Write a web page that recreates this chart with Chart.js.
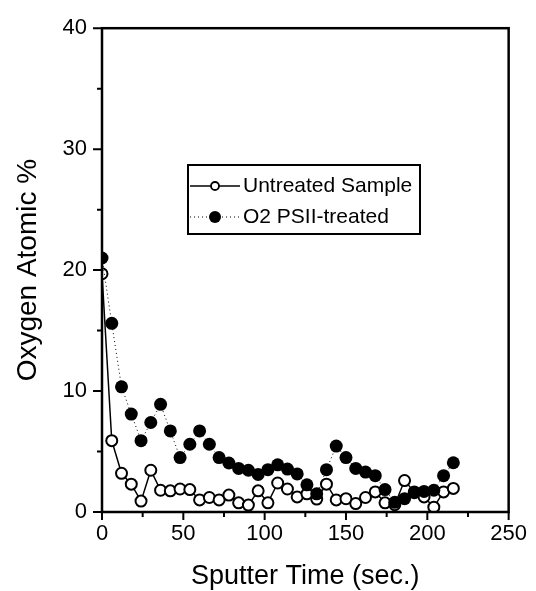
<!DOCTYPE html>
<html>
<head>
<meta charset="utf-8">
<script src="https://cdn.jsdelivr.net/npm/chart.js@4"></script>
<style>
  html, body { margin: 0; padding: 0; background: #fff; }
  #wrap { width: 536px; height: 591px; }
</style>
</head>
<body>
<div id="wrap"><canvas id="myChart"></canvas></div>
<script>
const sputterTime = [0, 6, 12, 18, 24, 30, 36, 42, 48, 54, 60, 66, 72, 78, 84, 90, 96, 102, 108, 114,
    120, 126, 132, 138, 144, 150, 156, 162, 168, 174, 180, 186, 192, 198, 204, 210, 216];

const untreated = [19.7, 5.9, 3.2, 2.3, 0.9, 3.45, 1.8, 1.75, 1.9, 1.85, 1.0, 1.2, 1.0, 1.4, 0.76, 0.57, 1.75, 0.76, 2.4, 1.9,
    1.25, 1.5, 1.07, 2.3, 1.0, 1.1, 0.7, 1.2, 1.66, 0.76, 0.6, 2.6, 1.66, 1.25, 0.4, 1.66, 1.95];

const treated = [21.0, 15.6, 10.35, 8.1, 5.9, 7.4, 8.9, 6.7, 4.5, 5.6, 6.7, 5.6, 4.5, 4.05, 3.6, 3.45, 3.1, 3.5, 3.9, 3.55,
    3.15, 2.25, 1.5, 3.5, 5.45, 4.5, 3.6, 3.3, 3.0, 1.85, 0.8, 1.1, 1.6, 1.7, 1.8, 3.0, 4.07];

const seriesNames = ['Untreated Sample', 'O2 PSII-treated'];

const xTicks = [0, 50, 100, 150, 200, 250];
const yTicks = [0, 10, 20, 30, 40];

const FONT = '"Liberation Sans", Arial, Helvetica, sans-serif';

const toPoints = (vals) => vals.map((v, i) => ({ x: sputterTime[i], y: v }));

// frame, tick marks and the boxed legend
const framePlugin = {
    id: 'frame',
    afterDraw(chart) {
        const ctx = chart.ctx;
        const a = chart.chartArea;
        const sx = chart.scales.x;
        const sy = chart.scales.y;
        ctx.save();
        ctx.strokeStyle = '#000';
        ctx.lineWidth = 2.5;
        ctx.strokeRect(a.left, a.top, a.right - a.left, a.bottom - a.top);

        ctx.lineWidth = 2;
        ctx.beginPath();
        for (let v = 0; v <= 250; v += 25) {
            const px = sx.getPixelForValue(v);
            const len = v % 50 === 0 ? 8 : 5;
            ctx.moveTo(px, a.bottom);
            ctx.lineTo(px, a.bottom + len);
        }
        for (let v = 0; v <= 40; v += 5) {
            const py = sy.getPixelForValue(v);
            const len = v % 10 === 0 ? 9 : 5;
            ctx.moveTo(a.left, py);
            ctx.lineTo(a.left - len, py);
        }
        ctx.stroke();

        // legend box
        const lx = 188, ly = 165, lw = 232, lh = 69;
        ctx.lineWidth = 2;
        ctx.strokeRect(lx, ly, lw, lh);

        const rows = [ly + 21, ly + 52];
        ctx.font = '21px ' + FONT;
        ctx.fillStyle = '#000';
        ctx.textBaseline = 'middle';

        // untreated: solid line, open circle
        ctx.lineWidth = 1.5;
        ctx.setLineDash([]);
        ctx.beginPath();
        ctx.moveTo(lx + 2, rows[0]);
        ctx.lineTo(lx + 52, rows[0]);
        ctx.stroke();
        ctx.beginPath();
        ctx.arc(lx + 27, rows[0], 4, 0, Math.PI * 2);
        ctx.fillStyle = '#fff';
        ctx.fill();
        ctx.lineWidth = 1.8;
        ctx.stroke();

        // treated: dotted line, filled circle
        ctx.lineWidth = 1;
        ctx.setLineDash([1, 3]);
        ctx.beginPath();
        ctx.moveTo(lx + 2, rows[1]);
        ctx.lineTo(lx + 52, rows[1]);
        ctx.stroke();
        ctx.setLineDash([]);
        ctx.beginPath();
        ctx.arc(lx + 27, rows[1], 6, 0, Math.PI * 2);
        ctx.fillStyle = '#000';
        ctx.fill();

        ctx.fillStyle = '#000';
        ctx.fillText(seriesNames[0], lx + 55, rows[0]);
        ctx.fillText(seriesNames[1], lx + 55, rows[1]);
        ctx.restore();
    }
};

const data = {
    datasets: [
        {
            label: seriesNames[1],
            data: toPoints(treated),
            borderColor: '#000',
            borderWidth: 1,
            borderDash: [1, 3],
            backgroundColor: '#000',
            pointRadius: 6.5,
            pointBorderWidth: 0,
            pointBackgroundColor: '#000',
            showLine: true,
            order: 1,
        },
        {
            label: seriesNames[0],
            data: toPoints(untreated),
            borderColor: '#000',
            borderWidth: 1.5,
            backgroundColor: '#fff',
            pointRadius: 5.5,
            pointBorderWidth: 2,
            pointBackgroundColor: '#fff',
            pointBorderColor: '#000',
            showLine: true,
            order: 2,
        },
    ],
};

const config = {
    type: 'scatter',
    data: data,
    options: {
        responsive: false,
        animation: false,
        layout: { padding: { top: 24, right: 22, left: 0, bottom: 0 } },
        plugins: {
            legend: { display: false },
            tooltip: { enabled: false },
        },
        scales: {
            x: {
                type: 'linear',
                min: 0,
                max: 250,
                afterFit: (s) => { s.height = 79; },
                afterBuildTicks: (s) => { s.ticks = xTicks.map(v => ({ value: v })); },
                grid: { display: false, drawTicks: false },
                border: { display: false },
                ticks: { color: '#000', padding: 9, maxRotation: 0, font: { family: FONT, size: 22 } },
                title: {
                    display: true,
                    text: 'Sputter Time (sec.)',
                    color: '#000',
                    font: { family: FONT, size: 27, lineHeight: 0.75 },
                },
            },
            y: {
                type: 'linear',
                min: 0,
                max: 40,
                afterFit: (s) => { s.width = 102; },
                afterBuildTicks: (s) => { s.ticks = yTicks.map(v => ({ value: v })); },
                grid: { display: false, drawTicks: false },
                border: { display: false },
                ticks: { color: '#000', padding: 15, font: { family: FONT, size: 22 } },
                title: {
                    display: true,
                    text: 'Oxygen Atomic %',
                    color: '#000',
                    font: { family: FONT, size: 28, lineHeight: 1.7 },
                },
            },
        },
    },
    plugins: [framePlugin],
};

const cts = document.querySelector('#myChart');
cts.width = 536;
cts.height = 591;
const myChart = new Chart(cts.getContext('2d'), config);
</script>
</body>
</html>
